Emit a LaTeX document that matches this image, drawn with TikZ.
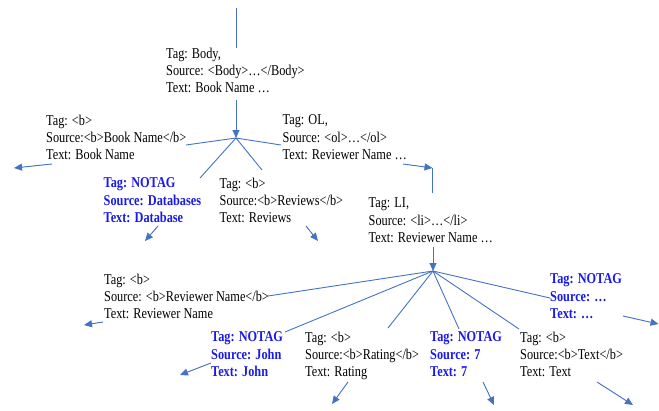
\documentclass[tikz,border=0pt]{standalone}
\usepackage{fontspec}
\setmainfont{Liberation Serif}[FakeStretch=0.82]
\usetikzlibrary{arrows.meta}
\definecolor{lineblue}{RGB}{68,114,196}
\definecolor{tblue}{RGB}{25,25,235}
\tikzset{
  lbl/.style={anchor=north west, inner sep=0pt, align=left, font=\fontsize{15}{17.2}\selectfont},
  blbl/.style={lbl, font=\fontsize{15}{17.2}\selectfont\bfseries, text=tblue},
  conn/.style={draw=lineblue, line width=0.9pt},
  arr/.style={conn, -{Triangle[length=8pt,width=7pt]}, fill=lineblue}
}
\begin{document}
\begin{tikzpicture}[x=1pt,y=-1pt]
\useasboundingbox (0,0) rectangle (659,410);
% nodes (anchor at first baseline minus ascent)
\node[lbl]  (body) at (166,47.8)   {Tag: Body,\\Source: <Body>…</Body>\\Text: Book Name …};
\node[lbl]  (bn)   at (46,114.8)   {Tag: <b>\\Source:<b>Book Name</b>\\Text: Book Name};
\node[lbl]  (ol)   at (282.5,114.8){Tag: OL,\\Source: <ol>…</ol>\\Text: Reviewer Name …};
\node[blbl] (db)   at (103.5,177.8){Tag: NOTAG\\Source: Databases\\Text: Database};
\node[lbl]  (rv)   at (219.5,177.8){Tag: <b>\\Source:<b>Reviews</b>\\Text: Reviews};
\node[lbl]  (li)   at (368.5,197.8){Tag: LI,\\Source: <li>…</li>\\Text: Reviewer Name …};
\node[lbl]  (rn)   at (104,273.8)  {Tag: <b>\\Source: <b>Reviewer Name</b>\\Text: Reviewer Name};
\node[blbl] (nd)   at (550,273.8)  {Tag: NOTAG\\Source: …\\Text: …};
\node[blbl] (jn)   at (211,331.8)  {Tag: NOTAG\\Source: John\\Text: John};
\node[lbl]  (rt)   at (305,331.8)  {Tag: <b>\\Source:<b>Rating</b>\\Text: Rating};
\node[blbl] (sv)   at (430,331.8)  {Tag: NOTAG\\Source: 7\\Text: 7};
\node[lbl]  (tx)   at (520,331.8)  {Tag: <b>\\Source:<b>Text</b>\\Text: Text};
% coordinates
\coordinate (top) at (236,8);
\coordinate (bodyout) at (236,100);
\coordinate (hub1) at (236,138);
\coordinate (bnin) at (186,145);
\coordinate (olin) at (281,145);
\coordinate (dbin) at (200,178);
\coordinate (rvin) at (262,170);
\coordinate (bnout) at (52,164);  \coordinate (bnend) at (14,168);
\coordinate (dbout) at (158,226); \coordinate (dbend) at (145,241);
\coordinate (rvout) at (306,226); \coordinate (rvend) at (318,241);
\coordinate (olout) at (403,164); \coordinate (corner) at (432.5,168);
\coordinate (liup) at (432.5,193);
\coordinate (liout) at (433,247);
\coordinate (hub2) at (433,271);
\coordinate (rnin) at (268,296);
\coordinate (jnin) at (285,332);
\coordinate (rtin) at (388,328);
\coordinate (svin) at (459,329);
\coordinate (txin) at (519,329);
\coordinate (ndin) at (550,298);
\coordinate (rnout) at (103,322); \coordinate (rnend) at (84,325);
\coordinate (jnout) at (211,363); \coordinate (jnend) at (180,375);
\coordinate (rtout) at (348,382); \coordinate (rtend) at (332,404);
\coordinate (svout) at (483,382); \coordinate (svend) at (494,405);
\coordinate (txout) at (597,382); \coordinate (txend) at (633,405);
\coordinate (ndout) at (623,316); \coordinate (ndend) at (658.5,324);
% connectors
\draw[conn] (top) -- (top |- body.north);
\draw[arr] (bodyout) -- (hub1);
\draw[conn] (hub1) -- (bnin);
\draw[conn] (hub1) -- (olin);
\draw[conn] (hub1) -- (dbin);
\draw[conn] (hub1) -- (rvin);
\draw[arr] (bnout) -- (bnend);
\draw[arr] (dbout) -- (dbend);
\draw[arr] (rvout) -- (rvend);
\draw[arr] (olout) -- (corner);
\draw[conn] (liup) -- (corner);
\draw[arr] (liout) -- (hub2);
\draw[conn] (hub2) -- (rnin);
\draw[conn] (hub2) -- (jnin);
\draw[conn] (hub2) -- (rtin);
\draw[conn] (hub2) -- (svin);
\draw[conn] (hub2) -- (txin);
\draw[conn] (hub2) -- (ndin);
\draw[arr] (rnout) -- (rnend);
\draw[arr] (jnout) -- (jnend);
\draw[arr] (rtout) -- (rtend);
\draw[arr] (svout) -- (svend);
\draw[arr] (txout) -- (txend);
\draw[arr] (ndout) -- (ndend);
\end{tikzpicture}
\end{document}
